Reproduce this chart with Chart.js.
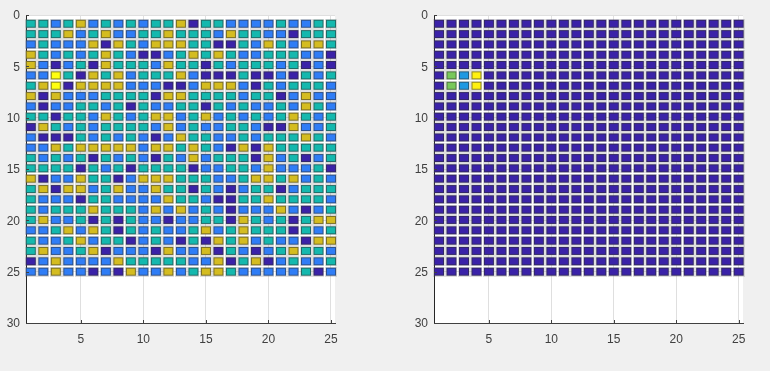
<!DOCTYPE html>
<html>
<head>
<meta charset="utf-8">
<script src="https://cdn.jsdelivr.net/npm/chart.js@4"></script>
<style>
  html, body { margin: 0; padding: 0; width: 770px; height: 371px; background: #f0f0f0; overflow: hidden; }
  .panel { position: absolute; top: 0; height: 371px; filter: blur(0.3px); }
  #leftChart { left: 0; width: 385px; }
  #rightChart { left: 385px; width: 385px; }
</style>
</head>
<body>
<div class="panel" id="leftChart"><canvas id="leftCanvas" width="385" height="371"></canvas></div>
<div class="panel" id="rightChart"><canvas id="rightCanvas" width="385" height="371"></canvas></div>
<script>
const xTicks = [5, 10, 15, 20, 25];
const yTicks = [0, 5, 10, 15, 20, 25, 30];

// row centres, they sit a bit above the integers at the top
const rowValues = [0.85, 1.86, 2.86, 3.87, 4.87, 5.88, 6.89, 7.89, 8.9, 9.9, 10.91, 11.92, 12.92,
  13.93, 14.93, 15.94, 16.95, 17.95, 18.96, 19.96, 20.97, 21.98, 22.98, 23.99, 25];

// D dark, B blue, T teal, Y yellow, Z bright yellow
const leftRows = [
  "TTBTYBTBTBTTYDTTBBBBTBBTT",
  "TTTYBTYBBTTYTTTBYTTBBDTTT",
  "BTBBBYDYTBYYYTTDDTBYTBYYT",
  "YTBTBTYTBDDBTYTYTBBTTTBBD",
  "YBDBTDYTTTBYTTDTBTTTBTDBD",
  "BBZTDYTYBTTTYBDDDTDDBDTBT",
  "TYZDYYYYBBBDDBYYYBDTBTTTB",
  "YDYBBBTTTTDYYTTTTBTTDBYBB",
  "BDBBTTBTDTBBTTDTBTBBTBYTB",
  "TTDTTBYTBTYYBTYBTBTBTYTBT",
  "DYTBTBTTTTBYBTBBTTBDDYBBT",
  "BDDDTBTBTBDBYTTBBTBTTTYTB",
  "BBYTYYYYYBYYTYTBDYDYTTTTT",
  "TBTBTDTBTBDTBYBTTTDYBTDBT",
  "TTTTDTBTDTTTTDBBTTBYBBBTD",
  "YDBBYTTDBYYYTTTBBTYYTYBTB",
  "TYDYYBTYBBYTTDTBDBTTDBTTT",
  "TBBBDTTBBBBYTTBDDTTYTTTTB",
  "TBTTTYTTTBYBYBTBDBBBYBDBT",
  "TYBBTDTDTBBDBBTTDYTBTDTYY",
  "BBTYBYTDTBTBBTYBTYTTTDTBT",
  "TBBTYBTTDBTBDTDYTYBTBBDYY",
  "TYBBTYDBBBDYBBYDTBDBTYTTB",
  "DBYBBBBYTTTTTBBYDTYDBTBBT",
  "BBYBBDBDYBBYBTYYTBBBBBTDB"
];

const rightRows = [
  "DDDDDDDDDDDDDDDDDDDDDDDDD",
  "DDDDDDDDDDDDDDDDDDDDDDDDD",
  "DDDDDDDDDDDDDDDDDDDDDDDDD",
  "DDDDDDDDDDDDDDDDDDDDDDDDD",
  "DDDDDDDDDDDDDDDDDDDDDDDDD",
  "DGCLDDDDDDDDDDDDDDDDDDDDD",
  "DGCLDDDDDDDDDDDDDDDDDDDDD",
  "DDDDDDDDDDDDDDDDDDDDDDDDD",
  "DDDDDDDDDDDDDDDDDDDDDDDDD",
  "DDDDDDDDDDDDDDDDDDDDDDDDD",
  "DDDDDDDDDDDDDDDDDDDDDDDDD",
  "DDDDDDDDDDDDDDDDDDDDDDDDD",
  "DDDDDDDDDDDDDDDDDDDDDDDDD",
  "DDDDDDDDDDDDDDDDDDDDDDDDD",
  "DDDDDDDDDDDDDDDDDDDDDDDDD",
  "DDDDDDDDDDDDDDDDDDDDDDDDD",
  "DDDDDDDDDDDDDDDDDDDDDDDDD",
  "DDDDDDDDDDDDDDDDDDDDDDDDD",
  "DDDDDDDDDDDDDDDDDDDDDDDDD",
  "DDDDDDDDDDDDDDDDDDDDDDDDD",
  "DDDDDDDDDDDDDDDDDDDDDDDDD",
  "DDDDDDDDDDDDDDDDDDDDDDDDD",
  "DDDDDDDDDDDDDDDDDDDDDDDDD",
  "DDDDDDDDDDDDDDDDDDDDDDDDD",
  "DDDDDDDDDDDDDDDDDDDDDDDDD"
];

const cellColors = {
  D: "#3a22a8", B: "#2f7df6", T: "#14b8ae", Y: "#d4bc20", Z: "#ffff10",
  G: "#78c85a", C: "#1e98e2", L: "#fff010"
};

// one little sprite per colour, cells are wider than tall
const sprites = {};
for (const key in cellColors) {
  const c = document.createElement("canvas");
  c.width = 12;
  c.height = 10;
  const g = c.getContext("2d");
  g.fillStyle = "rgba(110,110,110,0.22)";
  g.fillRect(0, 0, 12, 10);
  g.fillStyle = cellColors[key];
  g.fillRect(1, 1, 10, 8);
  g.strokeStyle = "rgba(45,45,45,0.55)";
  g.lineWidth = 1;
  g.strokeRect(1.5, 1.5, 9, 7);
  sprites[key] = c;
}

function buildPoints(rows) {
  const pts = [];
  rows.forEach((row, r) => {
    row.split("").forEach((code, i) => {
      pts.push({ x: i + 1, y: rowValues[r], code: code });
    });
  });
  return pts;
}

const axesLook = {
  id: "axesLook",
  beforeDraw(chart) {
    const a = chart.chartArea;
    chart.ctx.fillStyle = "#ffffff";
    chart.ctx.fillRect(a.left, a.top, a.right - a.left, a.bottom - a.top);
  },
  afterDatasetsDraw(chart) {
    // matlab style ticks sit inside the box
    const a = chart.chartArea;
    const ctx = chart.ctx;
    ctx.strokeStyle = "#404040";
    ctx.lineWidth = 1;
    ctx.beginPath();
    xTicks.forEach(v => {
      const px = Math.round(chart.scales.x.getPixelForValue(v)) + 0.5;
      ctx.moveTo(px, a.bottom);
      ctx.lineTo(px, a.bottom - 3);
    });
    yTicks.forEach(v => {
      const py = Math.round(chart.scales.y.getPixelForValue(v)) + 0.5;
      ctx.moveTo(a.left, py);
      ctx.lineTo(a.left + 3, py);
    });
    ctx.stroke();
  }
};

function makeChart(id, rows, xMin, xMax, leftWidth, rightPad) {
  return new Chart(document.getElementById(id).getContext("2d"), {
    type: "scatter",
    data: {
      datasets: [{
        data: buildPoints(rows),
        clip: false,
        pointRadius: 6,
        pointStyle: ctx => sprites[ctx.raw.code]
      }]
    },
    options: {
      responsive: false,
      animation: false,
      plugins: { legend: { display: false }, tooltip: { enabled: false } },
      layout: { padding: { top: 15, right: rightPad, bottom: 0, left: 0 } },
      scales: {
        x: {
          type: "linear",
          min: xMin,
          max: xMax,
          afterBuildTicks: s => { s.ticks = xTicks.map(v => ({ value: v })); },
          afterFit: s => { s.height = 48; },
          grid: { color: "#dfdfdf", drawTicks: false },
          border: { color: "#404040" },
          ticks: { color: "#404040", font: { family: "Liberation Sans", size: 12 }, padding: 9, maxRotation: 0 }
        },
        y: {
          type: "linear",
          reverse: true,
          min: 0,
          max: 30,
          afterBuildTicks: s => { s.ticks = yTicks.map(v => ({ value: v })); },
          afterFit: s => { s.width = leftWidth; },
          grid: { color: "#dfdfdf", drawTicks: false },
          border: { color: "#262626" },
          ticks: { color: "#404040", font: { family: "Liberation Sans", size: 12 }, padding: 6, labelOffset: 1 }
        }
      }
    },
    plugins: [axesLook]
  });
}

makeChart("leftCanvas", leftRows, 0.62, 25.32, 26, 50);
makeChart("rightCanvas", rightRows, 0.6, 25.35, 49, 27);
</script>
</body>
</html>
